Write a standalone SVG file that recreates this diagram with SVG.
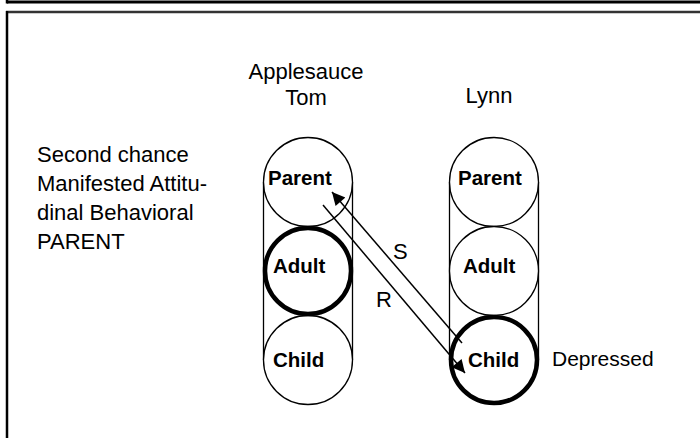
<svg xmlns="http://www.w3.org/2000/svg" width="700" height="438" viewBox="0 0 700 438">
<defs>
<marker id="ah" viewBox="0 0 10 10" refX="10" refY="5" markerWidth="16" markerHeight="13" markerUnits="userSpaceOnUse" orient="auto">
<path d="M0,0 L10,5 L0,10 z" fill="#000"/>
</marker>
</defs>
<style>
text{font-family:"Liberation Sans",Arial,sans-serif;font-size:22px;fill:#000}
.lbl{font-weight:bold;font-size:20.5px}
.c{fill:#fff;stroke:#000;stroke-width:1.3}
.thick{stroke-width:4.5}
.col{fill:none;stroke:#000;stroke-width:1.3}
.conn{stroke:#000;stroke-width:1.5;fill:none}
</style>
<rect width="700" height="438" fill="#fff"/>
<g id="frame">
<line x1="7" y1="2" x2="700" y2="2" stroke="#000" stroke-width="3"/>
<line x1="7" y1="0" x2="7" y2="3.5" stroke="#000" stroke-width="2.5"/>
<line x1="6" y1="12" x2="700" y2="12" stroke="#333" stroke-width="2.5"/>
<line x1="7" y1="11" x2="7" y2="438" stroke="#000" stroke-width="2.5"/>
</g>
<g id="left-text">
<text x="37" y="162">Second chance</text>
<text x="37" y="191">Manifested Attitu-</text>
<text x="37" y="220">dinal Behavioral</text>
<text x="37" y="249">PARENT</text>
</g>
<g id="tom-title">
<text x="306" y="79" text-anchor="middle">Applesauce</text>
<text x="306" y="105" text-anchor="middle">Tom</text>
</g>
<g id="lynn-title">
<text x="489" y="103" text-anchor="middle">Lynn</text>
</g>
<g id="tom-column">
<line class="col" x1="263.5" y1="182" x2="263.5" y2="360"/>
<line class="col" x1="352.5" y1="182" x2="352.5" y2="360"/>
</g>
<g id="tom-parent"><circle class="c" cx="308" cy="182" r="44.5"/><text class="lbl" x="268" y="185">Parent</text></g>
<g id="tom-child"><circle class="c" cx="308" cy="360" r="44.5"/><text class="lbl" x="273" y="367">Child</text></g>
<g id="tom-adult"><circle class="c thick" cx="308" cy="271" r="43"/><text class="lbl" x="273" y="273">Adult</text></g>
<g id="lynn-column">
<line class="col" x1="449.5" y1="182" x2="449.5" y2="360"/>
<line class="col" x1="538.5" y1="182" x2="538.5" y2="360"/>
</g>
<g id="lynn-parent"><circle class="c" cx="494" cy="182" r="44.5"/><text class="lbl" x="458" y="185">Parent</text></g>
<g id="lynn-adult"><circle class="c" cx="494" cy="271" r="44.5"/><text class="lbl" x="463" y="273">Adult</text></g>
<g id="lynn-child"><circle class="c thick" cx="494" cy="360" r="43"/><text class="lbl" x="468" y="367">Child</text></g>
<g id="depressed"><text x="552" y="366" style="font-size:21px">Depressed</text></g>
<g id="connectors">
<line class="conn" x1="462" y1="343" x2="332" y2="192" marker-end="url(#ah)"/>
<line class="conn" x1="323" y1="205" x2="465" y2="373" marker-end="url(#ah)"/>
<text x="393" y="259">S</text>
<text x="376" y="307">R</text>
</g>
</svg>
